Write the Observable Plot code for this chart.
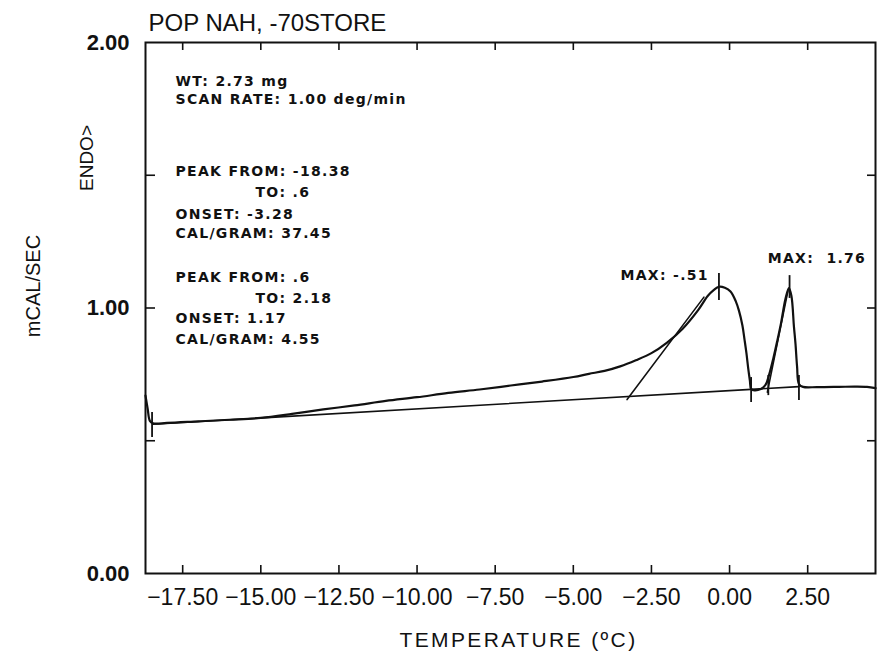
<!DOCTYPE html>
<html><head><meta charset="utf-8">
<script src="https://cdn.jsdelivr.net/npm/d3@7"></script>
<script src="https://cdn.jsdelivr.net/npm/@observablehq/plot@0.6"></script>
<style>
body{margin:0;background:#fff;}
</style></head><body><div id="chart"></div>
<script>
// ---- data ----
const titleText = "POP NAH, -70STORE";
const xTicks = [-17.5, -15, -12.5, -10, -7.5, -5, -2.5, 0, 2.5];
const yLabels = [0, 1, 2];
const yMinor = [0.5, 1, 1.5];
const xDomain = [-18.69, 4.67];
const yDomain = [0, 2];

const temps = [-18.69, -18.62, -18.55, -18.45, -18.0, -17.0, -16.0, -15.0, -14.0, -13.0, -12.0, -11.0, -10.0, -9.0, -8.0, -7.0, -6.0, -5.0, -4.5, -4.0, -3.5, -3.0, -2.5, -2.0, -1.5, -1.0, -0.7, -0.5, -0.34, -0.15, 0.03, 0.2, 0.3, 0.41, 0.48, 0.54, 0.6, 0.65, 0.69, 0.8, 1.0, 1.15, 1.26, 1.4, 1.53, 1.65, 1.79, 1.9, 1.98, 2.06, 2.11, 2.16, 2.22, 2.35, 2.8, 3.5, 4.0, 4.4, 4.67];
const signal = [0.67, 0.62, 0.575, 0.566, 0.567, 0.573, 0.579, 0.586, 0.601, 0.618, 0.633, 0.650, 0.664, 0.680, 0.693, 0.708, 0.723, 0.740, 0.752, 0.763, 0.780, 0.803, 0.830, 0.870, 0.922, 0.993, 1.045, 1.068, 1.080, 1.076, 1.062, 1.025, 0.99, 0.935, 0.88, 0.83, 0.77, 0.727, 0.695, 0.690, 0.695, 0.71, 0.746, 0.81, 0.878, 0.945, 1.035, 1.075, 1.045, 0.93, 0.865, 0.78, 0.714, 0.703, 0.702, 0.703, 0.704, 0.703, 0.698];

const baseT = [-18.45, 2.22];
const baseV = [0.562, 0.704];
const onset1T = [-3.28, -0.82];
const onset1V = [0.655, 1.041];
const onset2T = [1.21, 1.87];
const onset2V = [0.683, 1.066];

const markerT = [-18.48, -0.34, 0.69, 1.24, 1.92, 2.22];
const markerTop = [0.606, 1.13, 0.738, 0.746, 1.122, 0.746];
const markerBottom = [0.512, 1.028, 0.644, 0.670, 1.036, 0.652];

const annotText = ["WT: 2.73 mg", "SCAN RATE: 1.00 deg/min", "PEAK FROM: -18.38", "TO: .6", "ONSET: -3.28", "CAL/GRAM: 37.45", "PEAK FROM: .6", "TO: 2.18", "ONSET: 1.17", "CAL/GRAM: 4.55", "MAX: -.51", "MAX:  1.76"];
const annotX = [-17.73, -17.73, -17.73, -15.17, -17.73, -17.73, -17.73, -15.17, -17.73, -17.73, -3.49, 1.22];
const annotY = [1.838, 1.770, 1.499, 1.417, 1.337, 1.262, 1.097, 1.017, 0.942, 0.866, 1.104, 1.171];

const yTitle = "mCAL/SEC";
const endoText = "ENDO>";
const xTitle = "TEMPERATURE (ºC)";

// ---- build ----
const W = 878, H = 652, mL = 145, mR = 3, mT = 42, mB = 79;
const innerW = W - mL - mR, innerH = H - mT - mB;
const ink = "#111";
const curve = temps.map((t, i) => ({t, v: signal[i]}));
const seg = (ts, vs) => ts.map((t, i) => ({t, v: vs[i]}));
const markers = markerT.map((t, i) => ({t, top: markerTop[i], bot: markerBottom[i]}));
const annots = annotText.map((s, i) => ({s, x: annotX[i], y: annotY[i]}));
const fmt = d3.format(".2f");

const chart = Plot.plot({
  width: W, height: H,
  marginLeft: mL, marginRight: mR, marginTop: mT, marginBottom: mB,
  x: {domain: xDomain, axis: null},
  y: {domain: yDomain, axis: null},
  style: {fontFamily: "'Liberation Sans', Arial, sans-serif", background: "white", color: ink},
  marks: [
    Plot.frame({stroke: ink, strokeWidth: 2}),
    Plot.tickX(xTicks, {x: d => d, insetTop: innerH - 8, stroke: ink, strokeWidth: 1.6}),
    Plot.tickX(xTicks, {x: d => d, insetBottom: innerH - 8, stroke: ink, strokeWidth: 1.6}),
    Plot.tickY(yMinor, {y: d => d, insetRight: innerW - 10, stroke: ink, strokeWidth: 1.6}),
    Plot.tickY(yMinor, {y: d => d, insetLeft: innerW - 8, stroke: ink, strokeWidth: 1.6}),
    Plot.text(xTicks, {x: d => d, text: d => fmt(d), frameAnchor: "bottom", dy: 24, lineAnchor: "middle", fontSize: 23, fill: ink}),
    Plot.text(yLabels, {y: d => d, text: d => fmt(d), frameAnchor: "left", dx: -16, textAnchor: "end", lineAnchor: "middle", fontSize: 22, fontWeight: "bold", fill: ink}),
    Plot.text([titleText], {text: d => d, frameAnchor: "top-left", dx: 3, dy: -12, textAnchor: "start", lineAnchor: "bottom", fontSize: 24, fill: ink}),
    Plot.text([yTitle], {text: d => d, frameAnchor: "left", dx: -112, dy: -22, rotate: -90, textAnchor: "middle", lineAnchor: "middle", fontSize: 20, fill: ink}),
    Plot.text([endoText], {text: d => d, frameAnchor: "left", dx: -59, dy: -150, rotate: -90, textAnchor: "middle", lineAnchor: "middle", fontSize: 19, fill: ink}),
    Plot.text([xTitle], {text: d => d, frameAnchor: "bottom", dx: 8, dy: 67, textAnchor: "middle", lineAnchor: "middle", fontSize: 21, fill: ink}),
    Plot.line(seg(baseT, baseV), {x: "t", y: "v", stroke: ink, strokeWidth: 1.6}),
    Plot.line(seg(onset1T, onset1V), {x: "t", y: "v", stroke: ink, strokeWidth: 1.6}),
    Plot.line(seg(onset2T, onset2V), {x: "t", y: "v", stroke: ink, strokeWidth: 1.6}),
    Plot.line(curve, {x: "t", y: "v", stroke: ink, strokeWidth: 2.2, curve: "catmull-rom"}),
    Plot.ruleX(markers, {x: "t", y1: "bot", y2: "top", stroke: ink, strokeWidth: 1.8}),
    Plot.text(annots, {x: "x", y: "y", text: "s", textAnchor: "start", lineAnchor: "bottom", fontSize: 14, fontWeight: "bold", fontFamily: "'DejaVu Sans', sans-serif", fill: ink})
  ]
});
// plotter-style wide lettering
d3.select(chart).selectAll("text").each(function() {
  const s = this.textContent;
  if (annotText.includes(s)) { this.style.letterSpacing = "1.3px"; this.style.whiteSpace = "pre"; }
  else if (s === xTitle) this.style.letterSpacing = "2.4px";
});
document.getElementById("chart").appendChild(chart);
</script>
</body></html>
